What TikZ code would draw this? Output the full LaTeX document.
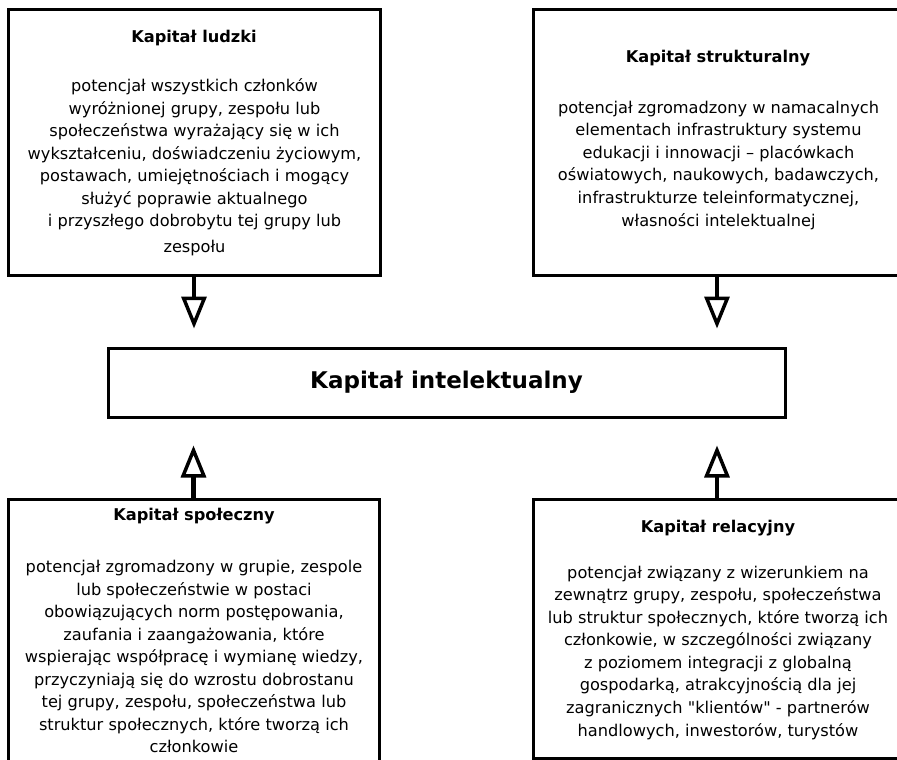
\documentclass[tikz,border=0pt]{standalone}
\usepackage{fontspec}
\setmainfont{DejaVu Sans}[Ligatures=TeXOff]
\usetikzlibrary{arrows.meta}
\begin{document}
\begin{tikzpicture}[x=1pt,y=-1pt,
  box/.style={draw, line width=3pt, fill=white, inner sep=0pt},
  body/.style={align=center, font=\fontsize{16.2}{22.5}\selectfont, inner sep=0pt},
  ttl/.style={font=\bfseries\fontsize{16.2}{18}\selectfont, inner sep=0pt},
  bigttl/.style={font=\bfseries\fontsize{23}{26}\selectfont, inner sep=0pt},
  arr/.style={line width=4.5pt, -{Triangle[open, length=32pt, width=25pt, line width=3.5pt]}}]
\useasboundingbox (0,0) rectangle (897,760);
\clip (0,0) rectangle (897,760);
% boxes
\node[box, minimum width=372pt, minimum height=265pt] (ludzki) at (194,142.5) {};
\node[box, minimum width=368pt, minimum height=265pt] (strukt) at (717,142.5) {};
\node[box, minimum width=677pt, minimum height=69pt] (intel) at (446.5,382.5) {};
\node[box, minimum width=371pt, minimum height=301pt] (spol) at (193.5,649.5) {};
\node[box, minimum width=368pt, minimum height=259pt] (relac) at (717,628.5) {};
% titles
\node[ttl] (tludzki) at (194,38) {Kapitał ludzki};
\node[ttl] (tstrukt) at (718,58) {Kapitał strukturalny};
\node[bigttl] (tintel) at (446.5,382) {Kapitał intelektualny};
\node[ttl] (tspol) at (194,516) {Kapitał społeczny};
\node[ttl] (trelac) at (718,528) {Kapitał relacyjny};
% bodies
\node[body] (bludzki) at (194.5,167) {potencjał wszystkich członków\\
wyróżnionej grupy, zespołu lub\\
społeczeństwa wyrażający się w ich\\
wykształceniu, doświadczeniu życiowym,\\
postawach, umiejętnościach i mogący\\
służyć poprawie aktualnego\\
i przyszłego dobrobytu tej grupy lub\\[3pt]
zespołu};
\node[body] (bstrukt) at (718.5,165.5) {potencjał zgromadzony w namacalnych\\
elementach infrastruktury systemu\\
edukacji i innowacji – placówkach\\
oświatowych, naukowych, badawczych,\\
infrastrukturze teleinformatycznej,\\[1pt]
własności intelektualnej};
\node[body] (bspol) at (194,656.5) {potencjał zgromadzony w grupie, zespole\\
lub społeczeństwie w postaci\\
obowiązujących norm postępowania,\\
zaufania i zaangażowania, które\\
wspierając współpracę i wymianę wiedzy,\\
przyczyniają się do wzrostu dobrostanu\\
tej grupy, zespołu, społeczeństwa lub\\
struktur społecznych, które tworzą ich\\
członkowie};
\node[body] (brelac) at (718,653) {potencjał związany z wizerunkiem na\\
zewnątrz grupy, zespołu, społeczeństwa\\
lub struktur społecznych, które tworzą ich\\
członkowie, w szczególności związany\\
z poziomem integracji z globalną\\
gospodarką, atrakcyjnością dla jej\\
zagranicznych "klientów" - partnerów\\[1pt]
handlowych, inwestorów, turystów};
% arrows
\draw[arr, shorten >=18pt] (ludzki.south) -- (ludzki.south |- intel.north);
\draw[arr, shorten >=18pt] (strukt.south) -- (strukt.south |- intel.north);
\draw[arr, shorten >=27pt] (spol.north) -- (spol.north |- intel.south);
\draw[arr, shorten >=27pt] (relac.north) -- (relac.north |- intel.south);
\end{tikzpicture}
\end{document}
